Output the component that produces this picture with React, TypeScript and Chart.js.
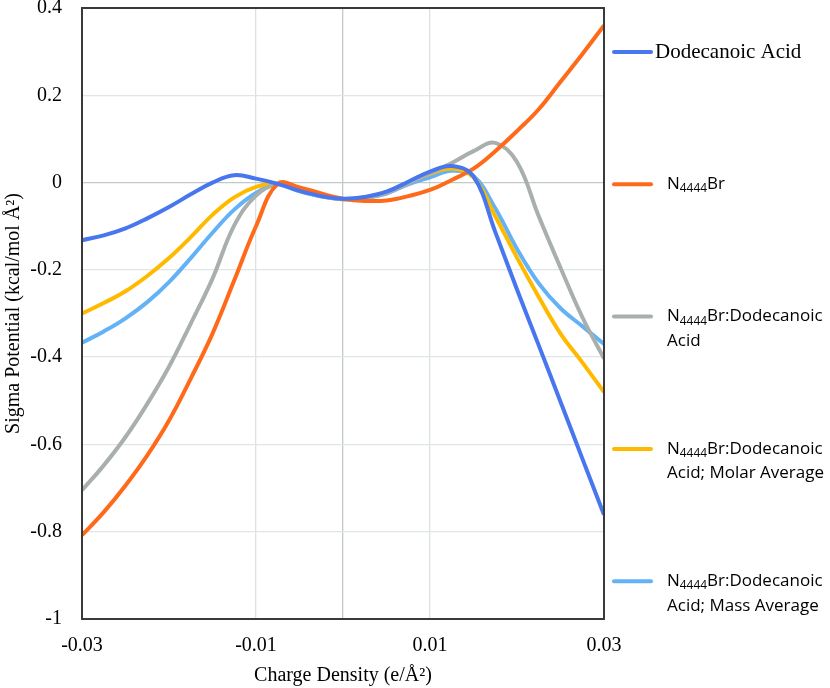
import { useEffect, useRef } from 'react';
import { Chart, registerables } from 'chart.js';

Chart.register(...registerables);

// ---- data ----
const chargeDensity = [
  -0.03, -0.0275, -0.025, -0.0225, -0.02, -0.0175, -0.015, -0.0125, -0.01, -0.0075, -0.005, -0.0025,
  0, 0.0025, 0.005, 0.0075, 0.01, 0.0125, 0.015, 0.0175, 0.02, 0.0225, 0.025, 0.0275, 0.03,
];

const dodecanoicAcid = [
  -0.132, -0.121, -0.105, -0.082, -0.056, -0.027, 0.0, 0.017, 0.009, -0.003, -0.019, -0.031,
  -0.037, -0.033, -0.021, 0.002, 0.025, 0.038, 0.014, -0.113, -0.245, -0.373, -0.502, -0.632, -0.761,
];

const n4444Br = [
  -0.808, -0.755, -0.694, -0.625, -0.545, -0.449, -0.346, -0.224, -0.1, -0.003, -0.011, -0.025,
  -0.037, -0.042, -0.041, -0.031, -0.017, 0.006, 0.032, 0.072, 0.118, 0.168, 0.231, 0.294, 0.36,
];

const mixture = [
  -0.705, -0.648, -0.583, -0.507, -0.422, -0.323, -0.22, -0.098, -0.03, -0.004, -0.019, -0.031,
  -0.038, -0.035, -0.024, -0.002, 0.022, 0.045, 0.072, 0.091, 0.047, -0.077, -0.195, -0.308, -0.403,
];

const molarAverage = [
  -0.3, -0.276, -0.249, -0.214, -0.173, -0.125, -0.074, -0.034, -0.01, -0.002, -0.018, -0.03,
  -0.038, -0.034, -0.022, 0.0, 0.02, 0.032, 0.012, -0.077, -0.172, -0.262, -0.346, -0.412, -0.48,
];

const massAverage = [
  -0.367, -0.341, -0.311, -0.274, -0.228, -0.173, -0.115, -0.062, -0.024, -0.004, -0.02, -0.032,
  -0.038, -0.035, -0.025, -0.004, 0.012, 0.027, 0.015, -0.059, -0.152, -0.231, -0.288, -0.329, -0.37,
];

const seriesNames = [
  'Dodecanoic Acid',
  'N_{4444}Br',
  'N_{4444}Br:Dodecanoic|Acid',
  'N_{4444}Br:Dodecanoic|Acid; Molar Average',
  'N_{4444}Br:Dodecanoic|Acid; Mass Average',
];

const seriesColors = ['#4776EE', '#FF6A1A', '#A8AFAD', '#FFBA00', '#63B2F6'];

const xTickLabels = ['-0.03', '-0.01', '0.01', '0.03'];
const xGridValues = [-0.01, 0, 0.01];
const yTickLabels = ['0.4', '0.2', '0', '-0.2', '-0.4', '-0.6', '-0.8', '-1'];

const SERIF = '"Liberation Serif", "Times New Roman", serif';
const SANS = '"Open Sans", "Noto Sans", sans-serif';

function drawRich(ctx: CanvasRenderingContext2D, text: string, x: number, y: number, size: number, family: string) {
  const parts = text.split(/(_\{[^}]*\})/);
  let cx = x;
  for (const p of parts) {
    if (!p) continue;
    if (p.startsWith('_{')) {
      const s = p.slice(2, -1);
      ctx.font = `${size * 0.7}px ${family}`;
      ctx.fillText(s, cx, y + size * 0.28);
      cx += ctx.measureText(s).width;
    } else {
      ctx.font = `${size}px ${family}`;
      ctx.fillText(p, cx, y);
      cx += ctx.measureText(p).width;
    }
  }
}

const framePlugin = {
  id: 'frame',
  afterDatasetsDraw(chart: any) {
    const { ctx, chartArea } = chart;
    ctx.save();
    ctx.strokeStyle = '#3a3a3a';
    ctx.lineWidth = 2;
    ctx.strokeRect(chartArea.left, chartArea.top, chartArea.right - chartArea.left, chartArea.bottom - chartArea.top);
    ctx.restore();
  },
};

const legendPlugin = {
  id: 'customLegend',
  afterDraw(chart: any) {
    const { ctx, chartArea } = chart;
    ctx.save();
    const lineX0 = chartArea.right + 10;
    const lineX1 = chartArea.right + 47;
    seriesNames.forEach((name, i) => {
      const y = chartArea.top + 44 + i * 132.3;
      ctx.strokeStyle = seriesColors[i];
      ctx.lineWidth = 4;
      ctx.lineCap = 'round';
      ctx.beginPath();
      ctx.moveTo(lineX0, y);
      ctx.lineTo(lineX1, y);
      ctx.stroke();
      ctx.fillStyle = '#000';
      ctx.textBaseline = 'middle';
      ctx.textAlign = 'left';
      const lines = name.split('|');
      if (i === 0) {
        drawRich(ctx, lines[0], chartArea.right + 51, y, 21, SERIF);
      } else {
        lines.forEach((ln, j) => {
          drawRich(ctx, ln, chartArea.right + 63, y + j * 24.5, 17, SANS);
        });
      }
    });
    ctx.restore();
  },
};

export default function App() {
  const canvasRef = useRef<HTMLCanvasElement | null>(null);

  useEffect(() => {
    document.body.style.margin = '0';
    const canvas = canvasRef.current;
    if (!canvas) return;
    const allSeries = [dodecanoicAcid, n4444Br, mixture, molarAverage, massAverage];
    const datasets = allSeries.map((vals, i) => ({
      label: seriesNames[i].replace(/_\{([^}]*)\}/g, '$1').replace('|', ' '),
      data: chargeDensity.map((x, k) => ({ x, y: vals[k] })),
      borderColor: seriesColors[i],
      backgroundColor: seriesColors[i],
      borderWidth: 4,
      pointRadius: 0,
      fill: false,
      tension: 0.4,
    }));
    const chart = new Chart(canvas, {
      type: 'line',
      data: { datasets },
      plugins: [framePlugin, legendPlugin],
      options: {
        animation: false,
        responsive: false,
        devicePixelRatio: 1,
        layout: { padding: { top: 8, right: 226, left: 0, bottom: 0 } },
        plugins: { legend: { display: false }, tooltip: { enabled: false } },
        scales: {
          x: {
            type: 'linear',
            min: -0.03,
            max: 0.03,
            afterFit: (s: any) => {
              s.height = 69;
            },
            ticks: {
              stepSize: 0.01,
              autoSkip: false,
              maxRotation: 0,
              padding: 15,
              color: '#000',
              font: { family: SERIF, size: 20 },
              callback: (v: any) => {
                const lbl = xTickLabels.find((l) => Math.abs(parseFloat(l) - Number(v)) < 1e-6);
                return lbl ?? '';
              },
            },
            grid: {
              drawTicks: false,
              lineWidth: 1.3,
              color: (c: any) => {
                const v = c.tick ? c.tick.value : NaN;
                if (Math.abs(v) < 1e-6) return '#c3c9c8';
                return xGridValues.some((g) => Math.abs(g - v) < 1e-6) ? '#dce2e2' : 'rgba(0,0,0,0)';
              },
            },
            border: { display: false },
            title: {
              display: true,
              text: 'Charge Density (e/Å²)',
              color: '#000',
              font: { family: SERIF, size: 20 },
              padding: 0,
            },
          },
          y: {
            type: 'linear',
            min: -1,
            max: 0.4,
            afterFit: (s: any) => {
              s.width = 82;
              s.paddingTop = 0;
              s.paddingBottom = 0;
            },
            ticks: {
              stepSize: 0.2,
              autoSkip: false,
              padding: 20,
              color: '#000',
              font: { family: SERIF, size: 20 },
              callback: (v: any) => {
                const lbl = yTickLabels.find((l) => Math.abs(parseFloat(l) - Number(v)) < 1e-6);
                return lbl ?? '';
              },
            },
            grid: {
              drawTicks: false,
              lineWidth: 1.3,
              color: (c: any) => {
                const v = c.tick ? c.tick.value : NaN;
                return Math.abs(v) < 1e-6 ? '#c3c9c8' : '#e0e5e5';
              },
            },
            border: { display: false },
            title: {
              display: true,
              text: 'Sigma Potential (kcal/mol Å²)',
              color: '#000',
              font: { family: SERIF, size: 20 },
              padding: { top: 2, bottom: 0 },
            },
          },
        },
      },
    });
    return () => chart.destroy();
  }, []);

  return (
    <div style={{ position: 'absolute', left: 0, top: 0, width: 830, height: 688, background: '#fff' }}>
      <canvas ref={canvasRef} width={830} height={688} style={{ display: 'block' }} />
    </div>
  );
}
